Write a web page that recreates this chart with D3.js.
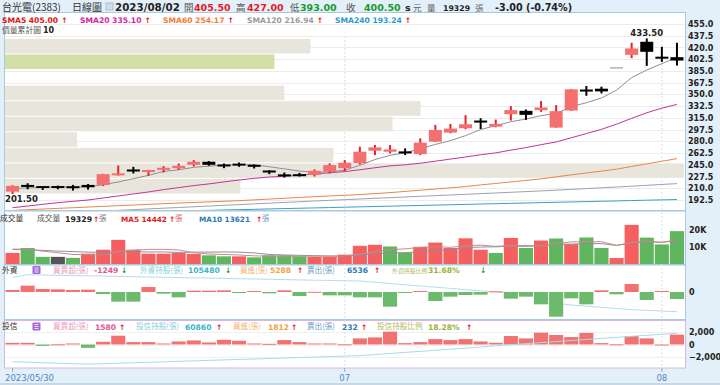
<!DOCTYPE html>
<html>
<head>
<meta charset="utf-8">
<script src="https://cdn.jsdelivr.net/npm/d3@7"></script>
<style>
  body { margin: 0; background: #e3eff9; }
  svg { display: block; }
</style>
</head>
<body>
<div id="chart"></div>
<script>
// ---- data ----
var dates = ["2023/05/30","2023/05/31","2023/06/01","2023/06/02","2023/06/05","2023/06/06","2023/06/07","2023/06/08","2023/06/09","2023/06/12",
  "2023/06/13","2023/06/14","2023/06/15","2023/06/16","2023/06/19","2023/06/20","2023/06/21","2023/06/26","2023/06/27","2023/06/28",
  "2023/06/29","2023/06/30","2023/07/03","2023/07/04","2023/07/05","2023/07/06","2023/07/07","2023/07/10","2023/07/11","2023/07/12",
  "2023/07/13","2023/07/14","2023/07/17","2023/07/18","2023/07/19","2023/07/20","2023/07/21","2023/07/24","2023/07/25","2023/07/26",
  "2023/07/27","2023/07/28","2023/07/31","2023/08/01","2023/08/02"];

var open  = [205,214,212,212,212,215,215,230,237,235, 237.5,240,245,249.5,244.5,245.5,244.5,235.5,229.5,231, 230,235,240,247.5,266,264.5,264,261,279.5,293, 299.5,310,302,320.5,325.5,326.5,300.5,326,356,358.5, 389.5,409,428.5,406,405.5];
var high  = [214.5,217.5,212.5,214,215,216.5,231.5,244,242,237.5, 243,247,252,250.5,247,248.5,245.5,237,233.5,233, 238,247,252,272,274.5,274.5,269.5,284.5,304.5,306, 319,314.5,312.5,332.5,327.5,340,334,358,362.5,361.5, 389.5,427,433.5,421,427];
var low   = [201.5,208.5,207.5,208.5,206.5,208,213.5,229,232,228.5, 233.5,237.5,242.5,243.5,240,242,239.5,231,226,227.5, 227.5,232,235,245.5,259.5,262,259.5,259.5,279,292, 298,298.5,301,311,312,324,300.5,325.5,348,351.5, 389.5,404,392.5,398.5,393];
var close = [213.5,213,211.5,211.5,211,211.5,231,231.5,236,236.5, 240.5,243.5,249.5,245,243.5,245,242.5,234.5,229,228, 236,244.5,248,264.5,271,268,263,278,297,299, 305.5,309,306,326.5,319.5,330.5,325,357.5,355.5,354.5, 389.5,418.5,413.5,403.5,400.5];

var sma5   = [209.5,210.5,211.3,212,212,211.8,215.3,219.4,224.2,229.3, 235.1,237.6,241.2,243,244.4,245.3,245.1,242.1,238.9,235.7, 233.9,234.3,237.1,244.3,252.8,259.2,262.9,268.9,275.4,281, 288.5,297.7,303.3,309.2,313.3,318.3,321.5,331.8,337.6,344.6, 356.4,375.1,386.3,395.9,405];
var sma20  = [181,183.5,186,188.5,190.5,192.5,195.5,198.5,201.5,204.5, 208,211,214,216.5,219.5,222.3,224.8,226.8,227.8,229.5, 231.3,233.1,234.9,237.6,240.6,243.4,245,247.3,250.4,253.5, 256.7,260,262.8,266.9,270.7,275,279.1,285.3,291.6,297.9, 305.6,314.3,322.6,329.5,335.1];
var sma60  = [177,178,179,180,181,182,183,184,185,186, 187,188,188.8,189.7,190.6,191.5,192.7,193.9,195.1,196.3, 197.5,198.5,199.5,200.7,202.1,203.5,205.3,207.1,208.9,210.7, 212.5,215,217.2,219.5,221.7,224,227,230,232.8,235.6, 238.5,242.5,246.4,250.3,254.2];
var sma120 = [169.5,170.6,171.7,172.7,173.8,174.9,176,177,178.1,179.2, 180.3,181.3,182.4,183.5,184.6,185.6,186.7,187.8,188.9,189.9, 191,192,193,194,195,196,197,198,199,200, 201,202,203,204,205,206.1,207.2,208.3,209.5,210.7, 211.9,213.1,214.4,215.7,216.9];
var sma240 = [170.3,170.8,171.3,171.8,172.4,172.9,173.4,173.9,174.5,175, 175.5,176,176.5,177.1,177.6,178.1,178.6,179.2,179.7,180.2, 180.7,181.2,181.8,182.3,182.8,183.3,183.9,184.4,184.9,185.4, 185.9,186.5,187,187.5,188,188.6,189.1,189.6,190.1,190.6, 191.1,191.7,192.2,192.7,193.2];

// volume at price, 10 bins from low 201.5 to high 433.5 (low -> high)
var binEdges = [201.5,224.7,247.9,271.1,294.3,317.5,340.7,363.9,387.1,410.3,433.5];
var binVolume = [23.5,67.8,32.8,7.2,38.7,41.5,27.9,0,26.9,30.5];

var volume = [6500,9400,4200,4200,3600,6100,8400,14200,8400,6100, 6100,6500,5900,5100,4500,4500,3900,5100,5100,4500, 4200,4200,5500,10700,11300,10300,6500,10100,12600,9400, 15100,8400,6500,15300,9400,13800,15000,11700,15600,9400, 3500,23000,15500,11500,19329];
var volMa5  = [8800,8600,7600,6600,5600,5500,5300,7300,8100,8600, 8600,8300,6600,5900,5600,5300,4800,4600,4600,4600, 4600,4600,4700,5800,7200,8400,8900,9800,10200,9800, 10700,11100,10400,10900,10900,10700,12000,13000,13100,13100, 11000,12700,13500,12600,14442];
var volMa10 = [8500,8400,8000,7600,7300,7000,6800,7000,7200,7100, 7100,6800,7000,7000,7100,7000,6500,5600,5300,5100, 4900,4700,4700,5200,5900,6500,6700,7200,8000,8500, 9600,10000,10100,10500,10400,10700,11600,11700,12000,12000, 10900,12300,13200,12800,13621];

var foreignNet  = [357,1130,536,476,357,417,-357,-1726,-1726,893, -298,-952,238,238,298,-60,179,-238,298,-714, 30,-595,-595,-952,-952,-2619,-119,179,-1607,-833, -536,-476,119,-1190,-833,-2202,-4405,-1131,-2202,298, -417,1429,-1429,179,-1249];
var foreignHold = [127840,129530,129340,129140,128945,128815,128620,128425,128230,128035, 127840,127645,127450,127320,127125,126930,126735,126540,126345,126150, 125955,125825,125630,125435,124655,123810,122965,122185,121405,120625, 119845,119065,118415,117960,117505,116985,110940,109835,109055,108275, 107560,106845,106325,105935,105480];
var trustNet  = [270,270,-217,30,163,-542,434,1409,380,380, 163,488,650,325,759,596,163,108,705,380, 163,163,30,976,1138,2060,217,380,867,705, 867,488,270,1355,976,1897,1518,1192,1843,217, 30,1355,976,0,1580];
var trustHold = [32460,31960,31460,30960,30460,29960,30460,30960,31360,31860, 32360,32860,33260,33760,34260,34760,35160,35660,36160,36660, 37060,37560,38060,38460,39560,40660,41760,42760,43860,44960, 45960,47160,48360,49460,50460,51560,52560,53660,54660,55760, 56760,57860,58860,59860,60860];

var priceTicks = [192.5,210,227.5,245,262.5,280,297.5,315,332.5,350,367.5,385,402.5,420,437.5,455];
var volTicks = [10000,20000];
var volTickLabels = ["10K","20K"];
var trustTicks = [2000,0,-2000];
var dateTicks = ["2023/05/30","2023/07/03","2023/08/01"];
var dateTickLabels = ["2023/05/30","07","08"];

// ---- setup ----
var NUM = "'DejaVu Sans', Verdana, sans-serif";
var CJK = "'Noto Sans CJK TC', 'Noto Sans CJK SC', sans-serif";
var RED = "#e31c1c", GREEN = "#199a2a";

var svg = d3.select("#chart").append("svg")
    .attr("width", 720)
    .attr("height", 385);

svg.append("rect").attr("width", 720).attr("height", 385).attr("fill", "#e3eff9");

var idx = d3.range(dates.length);
var x = d3.scaleBand().domain(idx).range([5, 684.5]);
function xc(i) { return x(i) + x.bandwidth() / 2; }

var y = d3.scaleLinear().domain([192.5, 455]).range([200, 24]);
var yVol = d3.scaleLinear().domain([0, 20000]).range([264, 230]);
var yF = d3.scaleLinear().domain([-5000, 2000]).range([320, 280.8]);
var yFH = d3.scaleLinear().domain([105480, 129530]).range([311.7, 274.7]);
var yT = d3.scaleLinear().domain([-2000, 2000]).range([357, 332]);
var yTH = d3.scaleLinear().domain([29960, 60860]).range([364.2, 333.3]);

// panels
function panel(y0, h, stroke) {
    svg.append("rect")
        .attr("x", 4.5).attr("y", y0)
        .attr("width", 681).attr("height", h)
        .attr("fill", "#fff")
        .attr("stroke", stroke)
        .attr("stroke-width", 1);
}
panel(12.5, 198, "#a9c9e0");
panel(211, 53.5, "#a9c9e0");
panel(265, 54.5, "#a9c9e0");
panel(320.5, 47.5, "#d9b6e3");

var defs = svg.append("defs");
defs.append("clipPath").attr("id", "clipMain")
    .append("rect").attr("x", 5).attr("y", 13).attr("width", 680).attr("height", 197);

// month gridlines
dateTicks.slice(1).forEach(function (d) {
    var i = dates.indexOf(d);
    svg.append("line")
        .attr("x1", xc(i)).attr("x2", xc(i))
        .attr("y1", 36).attr("y2", 368)
        .attr("stroke", "#dcdcdc")
        .attr("stroke-dasharray", "2,2");
});

// ---- main chart ----
var main = svg.append("g").attr("clip-path", "url(#clipMain)");

main.selectAll(".grid").data(priceTicks).enter().append("line")
    .attr("x1", 5).attr("x2", 685)
    .attr("y1", function (d) { return Math.round(y(d)) + 0.5; })
    .attr("y2", function (d) { return Math.round(y(d)) + 0.5; })
    .attr("stroke", "#ececec");

var lastBin = d3.bisectRight(binEdges, close[close.length - 1]) - 1;
var binX = d3.scaleLinear().domain([0, d3.max(binVolume)]).range([0, 679]);
main.selectAll(".bin").data(binVolume).enter().append("rect")
    .attr("x", 5)
    .attr("y", function (d, i) { return y(binEdges[i + 1]) + 0.5; })
    .attr("width", function (d) { return binX(d); })
    .attr("height", function (d, i) { return y(binEdges[i]) - y(binEdges[i + 1]) - 1; })
    .attr("fill", function (d, i) { return i === lastBin ? "#d3dfa8" : "#e8e6dc"; });

function drawLine(g, data, yScale, color, width) {
    g.append("path")
        .datum(data)
        .attr("fill", "none")
        .attr("stroke", color)
        .attr("stroke-width", width || 1)
        .attr("d", d3.line()
            .defined(function (d) { return d != null; })
            .x(function (d, i) { return xc(i); })
            .y(function (d) { return yScale(d); }));
}
drawLine(main, sma240, y, "#3f9bc8");
drawLine(main, sma120, y, "#a0a0ae");
drawLine(main, sma60, y, "#e8864a");
drawLine(main, sma20, y, "#c4339a");
drawLine(main, sma5, y, "#8f8f8f");

var candle = main.selectAll(".candle").data(idx).enter().append("g");
candle.each(function (i) {
    var g = d3.select(this);
    var o = open[i], c = close[i], h = high[i], l = low[i];
    if (h === l) {
        g.append("line")
            .attr("x1", xc(i) - 6.5).attr("x2", xc(i) + 6.5)
            .attr("y1", y(c)).attr("y2", y(c))
            .attr("stroke", "#8a8a8a").attr("stroke-width", 1);
        return;
    }
    var up = c > o;
    var wick = up ? "#e8212a" : "#000";
    var body = up ? "#f46f6f" : "#000";
    g.append("line")
        .attr("x1", xc(i)).attr("x2", xc(i))
        .attr("y1", y(h)).attr("y2", y(l))
        .attr("stroke", wick).attr("stroke-width", 2);
    var top = y(Math.max(o, c)), hh = Math.abs(y(o) - y(c));
    if (hh < 2) { top -= (2 - hh) / 2; hh = 2; }
    g.append("rect")
        .attr("x", xc(i) - 6.5).attr("y", top)
        .attr("width", 13).attr("height", hh)
        .attr("fill", body);
});

var hiIdx = d3.maxIndex(high), loIdx = d3.minIndex(low);
svg.append("text")
    .attr("x", xc(hiIdx)).attr("y", 36)
    .attr("text-anchor", "middle")
    .attr("font-family", NUM).attr("font-weight", "bold").attr("font-size", 8.5)
    .attr("fill", "#222")
    .text(d3.format(".2f")(high[hiIdx]));
svg.append("text")
    .attr("x", 5).attr("y", 201.5)
    .attr("font-family", NUM).attr("font-weight", "bold").attr("font-size", 8.5)
    .attr("fill", "#222")
    .text(d3.format(".2f")(low[loIdx]));

// right price axis
var axisP = svg.append("g")
    .attr("transform", "translate(685,0)")
    .call(d3.axisRight(y).tickValues(priceTicks).tickFormat(d3.format(".1f")).tickSize(0).tickPadding(3));
axisP.select(".domain").remove();
axisP.selectAll("text")
    .attr("font-family", NUM).attr("font-weight", "bold").attr("font-size", 8)
    .attr("fill", "#222");

// ---- volume panel ----
var vol = svg.append("g");
vol.selectAll("rect").data(idx).enter().append("rect")
    .attr("x", function (i) { return x(i) + 0.5; })
    .attr("width", x.bandwidth() - 1)
    .attr("y", function (i) { return yVol(volume[i]); })
    .attr("height", function (i) { return yVol(0) - yVol(volume[i]); })
    .attr("fill", function (i) {
        var prev = i > 0 ? close[i - 1] : open[i];
        if (close[i] > prev) return "#f55f5f";
        if (close[i] < prev) return "#5fb65f";
        return "#555";
    });
drawLine(vol, volMa10, yVol, "#8f8f9a");
drawLine(vol, volMa5, yVol, "#c98a8a");

var axisV = svg.append("g")
    .attr("transform", "translate(685,0)")
    .call(d3.axisRight(yVol).tickValues(volTicks)
        .tickFormat(function (d, i) { return volTickLabels[i]; })
        .tickSize(0).tickPadding(4));
axisV.select(".domain").remove();
axisV.selectAll("text")
    .attr("font-family", NUM).attr("font-weight", "bold").attr("font-size", 8)
    .attr("fill", "#222");

// ---- foreign investors panel ----
var fp = svg.append("g");
drawLine(fp, foreignHold, yFH, "#b5dceb");
fp.selectAll("rect").data(idx).enter().append("rect")
    .attr("x", function (i) { return x(i) + 0.5; })
    .attr("width", x.bandwidth() - 1)
    .attr("y", function (i) { return Math.min(yF(foreignNet[i]), yF(0)); })
    .attr("height", function (i) { return Math.max(1, Math.abs(yF(foreignNet[i]) - yF(0))); })
    .attr("fill", function (i) { return foreignNet[i] >= 0 ? "#f27272" : "#6cba6c"; });

var axisF = svg.append("g")
    .attr("transform", "translate(685,0)")
    .call(d3.axisRight(yF).tickValues([0]).tickSize(0).tickPadding(4));
axisF.select(".domain").remove();
axisF.selectAll("text")
    .attr("font-family", NUM).attr("font-weight", "bold").attr("font-size", 8)
    .attr("fill", "#222");

// ---- investment trust panel ----
var tp = svg.append("g");
tp.selectAll(".g").data(trustTicks).enter().append("line")
    .attr("x1", 5).attr("x2", 685)
    .attr("y1", function (d) { return Math.round(yT(d)) + 0.5; })
    .attr("y2", function (d) { return Math.round(yT(d)) + 0.5; })
    .attr("stroke", "#f0f0f0");
tp.selectAll("rect").data(idx).enter().append("rect")
    .attr("x", function (i) { return x(i) + 0.5; })
    .attr("width", x.bandwidth() - 1)
    .attr("y", function (i) { return Math.min(yT(trustNet[i]), yT(0)); })
    .attr("height", function (i) { return Math.max(1, Math.abs(yT(trustNet[i]) - yT(0))); })
    .attr("fill", function (i) { return trustNet[i] >= 0 ? "#f27272" : "#6cba6c"; });
drawLine(tp, trustHold, yTH, "#a6dde2");

var axisT = svg.append("g")
    .attr("transform", "translate(685,0)")
    .call(d3.axisRight(yT).tickValues(trustTicks).tickSize(0).tickPadding(4));
axisT.select(".domain").remove();
axisT.selectAll("text")
    .attr("font-family", NUM).attr("font-weight", "bold").attr("font-size", 8)
    .attr("fill", "#222");

// ---- date axis ----
dateTicks.forEach(function (d, k) {
    var i = dates.indexOf(d);
    svg.append("line")
        .attr("x1", xc(i)).attr("x2", xc(i))
        .attr("y1", 368).attr("y2", 372)
        .attr("stroke", "#9ab");
    svg.append("text")
        .attr("x", k === 0 ? 5 : xc(i))
        .attr("y", 381)
        .attr("text-anchor", k === 0 ? "start" : "middle")
        .attr("font-family", NUM).attr("font-size", 8.5)
        .attr("fill", "#4d88c2")
        .text(dateTickLabels[k]);
});
svg.append("rect").attr("x", 0).attr("y", 383).attr("width", 720).attr("height", 2).attr("fill", "#c9d7e3");

// ---- texts ----
function t(xp, yp, txt, color, size, bold, font) {
    return svg.append("text")
        .attr("x", xp).attr("y", yp)
        .attr("font-family", font || NUM)
        .attr("font-size", size)
        .attr("font-weight", bold ? "bold" : "normal")
        .attr("fill", color)
        .text(txt);
}

// row 1
t(2, 10.5, "台光電(2383)", "#333", 10, false, CJK);
t(72, 10.5, "日線圖", "#333", 10, false, CJK);
svg.append("rect").attr("x", 106).attr("y", 3).attr("width", 7).attr("height", 7)
    .attr("fill", "#cfdeeb").attr("stroke", "#a9c0d4");
t(115, 11, "2023/08/02", "#222", 10.3, true);
t(184, 10.5, "開", "#555", 9.5, false, CJK);
t(194, 11, "405.50", RED, 9.5, true);
t(236, 10.5, "高", "#555", 9.5, false, CJK);
t(247, 11, "427.00", RED, 9.5, true);
t(290, 10.5, "低", "#555", 9.5, false, CJK);
t(300, 11, "393.00", GREEN, 9.5, true);
t(346, 10.5, "收", "#555", 9.5, false, CJK);
t(364, 11, "400.50", GREEN, 9.5, true);
t(405, 11, "s", "#222", 9.5, true);
t(413, 10.5, "元", "#666", 8.5, false, CJK);
t(427, 10.5, "量", "#666", 8.5, false, CJK);
t(443, 11, "19329", "#222", 7.8, true);
t(475, 10.5, "張", "#666", 8.5, false, CJK);
t(495, 11, "-3.00 (-0.74%)", "#222", 9.6, true);

// row 2: moving averages legend
var smaLegend = [
    { x: 2, label: "SMA5 405.00", color: "#dd1111" },
    { x: 80, label: "SMA20 335.10", color: "#d4239c" },
    { x: 163, label: "SMA60 254.17", color: "#ee7c34" },
    { x: 247, label: "SMA120 216.94", color: "#9a9a9a" },
    { x: 335, label: "SMA240 193.24", color: "#2b98cf" }
];
smaLegend.forEach(function (s) {
    var tx = t(s.x, 23, "", s.color, 7.6, true);
    tx.append("tspan").text(s.label);
    tx.append("tspan").attr("fill", RED).attr("dx", 3).text("↑");
});

// row 3
t(2, 33, "價量累計圖", "#555", 7.8, false, CJK);
t(43, 33, "10", "#222", 8, true);

// volume header
t(0, 221, "成交量", "#333", 7.8, false, CJK);
t(37, 221, "成交量", "#555", 7.8, false, CJK);
t(65, 221.5, "19329", "#222", 7.8, true);
t(93, 221.5, "↑", RED, 7.5, true);
t(99, 221, "張", "#777", 7.5, false, CJK);
t(121, 221.5, "MA5 14442", "#e01b1b", 7.3, true);
t(169, 221.5, "↑", RED, 7.5, true);
t(175, 221, "張", "#e06060", 7.5, false, CJK);
t(199, 221.5, "MA10 13621", "#2b7ab8", 7.3, true);
t(256, 221.5, "↑", RED, 7.5, true);
t(262, 221, "張", "#6c9cc4", 7.5, false, CJK);

// panel icon
function icon(yp) {
    svg.append("rect").attr("x", 32.5).attr("y", yp).attr("width", 8).attr("height", 8)
        .attr("fill", "#a46ad8").attr("rx", 1);
    [2, 4, 6].forEach(function (d) {
        svg.append("line").attr("x1", 34.5).attr("x2", 38.5)
            .attr("y1", yp + d).attr("y2", yp + d)
            .attr("stroke", "#fff").attr("stroke-width", 0.8);
    });
}

// foreign header
t(2, 272.5, "外資", "#333", 7.8, false, CJK);
icon(266);
t(53, 272.5, "買賣超(張)", "#e99bb8", 7.6, false, CJK);
t(94, 273, "-1249", "#e2568e", 7.6, true);
t(121, 273, "↓", GREEN, 7.5, true);
t(140, 272.5, "外資持股(張)", "#86d0da", 7.6, false, CJK);
t(188, 273, "105480", "#3db4c6", 7.6, true);
t(225, 273, "↓", GREEN, 7.5, true);
t(240, 272.5, "買進(張)", "#f2b679", 7.6, false, CJK);
t(270, 273, "5288", "#f0a24a", 7.6, true);
t(297, 273, "↑", RED, 7.5, true);
t(307, 272.5, "賣出(張)", "#6d9bc4", 7.6, false, CJK);
t(347, 273, "6536", "#2e78b2", 7.6, true);
t(374, 273, "↑", RED, 7.5, true);
t(392, 272.5, "外資持股比例", "#adbc62", 5.9, false, CJK);
t(428, 273, "31.68%", "#9ab233", 7.6, true);
t(480, 273, "↓", GREEN, 7.5, true);

// trust header
t(2, 329, "投信", "#333", 7.8, false, CJK);
icon(322.5);
t(53, 329, "買賣超(張)", "#e99bb8", 7.6, false, CJK);
t(95, 329.5, "1580", "#e2568e", 7.6, true);
t(119, 329.5, "↑", RED, 7.5, true);
t(136, 329, "投信持股(張)", "#86d0da", 7.6, false, CJK);
t(185, 329.5, "60860", "#3db4c6", 7.6, true);
t(216, 329.5, "↑", RED, 7.5, true);
t(233, 329, "買進(張)", "#f2b679", 7.6, false, CJK);
t(268, 329.5, "1812", "#f0a24a", 7.6, true);
t(291, 329.5, "↑", RED, 7.5, true);
t(307, 329, "賣出(張)", "#6d9bc4", 7.6, false, CJK);
t(342, 329.5, "232", "#2e78b2", 7.6, true);
t(361, 329.5, "↑", RED, 7.5, true);
t(377, 329, "投信持股比例", "#adbc62", 7.6, false, CJK);
t(428, 329.5, "18.28%", "#9ab233", 7.6, true);
t(466, 329.5, "↑", RED, 7.5, true);
</script>
</body>
</html>
